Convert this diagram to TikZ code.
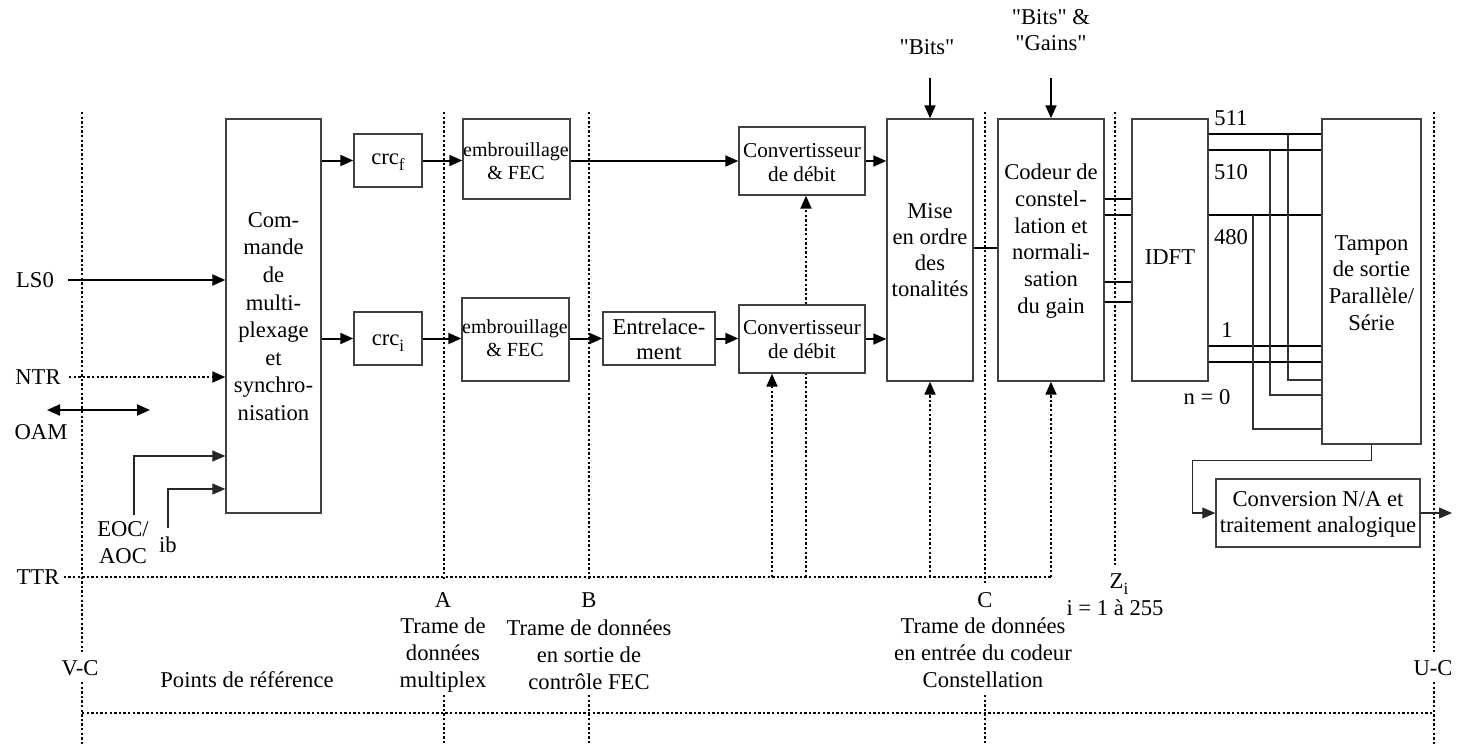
\documentclass[tikz,border=0pt]{standalone}
\usepackage{fontspec}
\setmainfont{Liberation Serif}[Ligatures=TeXOff]
\usetikzlibrary{arrows.meta,fit,calc}
% small lowered index letter (crc_f, crc_i, Z_i)
\newcommand\sbs[1]{\raisebox{-0.6ex}{\fontsize{8.5}{8.5}\selectfont #1}}
\begin{document}
\begin{tikzpicture}[x=0.5pt,y=-0.5pt,
  txt/.style={font=\fontsize{11.3}{13.4}\selectfont, align=center, inner sep=0pt},
  small/.style={txt, font=\fontsize{10}{11.5}\selectfont},
  mid/.style={txt, font=\fontsize{10.6}{12}\selectfont},
  box/.style={draw=black!75, line width=0.7pt, fill=white, inner sep=0pt},
  tip/.style={-{Triangle[length=6.5pt,width=5.5pt]}},
  arr/.style={line width=1pt, tip},
  tarr/.style={line width=0.55pt, draw=black!85, tip},
  dot/.style={line width=1pt, dash pattern=on 1.2pt off 1.1pt},
  wire/.style={line width=1pt},
  twire/.style={line width=0.55pt, draw=black!80},
]
\useasboundingbox (0,0) rectangle (1463,744);

% ---- reference planes (dotted verticals, broken where labelled) ----
\coordinate (vcT) at (82,112);   \coordinate (vcM) at (82,652);   \coordinate (vcN) at (82,682);   \coordinate (vcB) at (82,744);
\coordinate (aT)  at (444,112);  \coordinate (aM)  at (444,580);  \coordinate (aN)  at (444,695);  \coordinate (aB)  at (444,744);
\coordinate (bT)  at (589,112);  \coordinate (bM)  at (589,580);  \coordinate (bN)  at (589,695);  \coordinate (bB)  at (589,744);
\coordinate (cT)  at (985,112);  \coordinate (cM)  at (985,583);  \coordinate (cN)  at (985,695);  \coordinate (cB)  at (985,744);
\coordinate (ucT) at (1434,112); \coordinate (ucM) at (1434,652); \coordinate (ucN) at (1434,682); \coordinate (ucB) at (1434,744);
\coordinate (zT)  at (1115,112); \coordinate (zB)  at (1115,565);
\foreach \p in {vc,a,b,c,uc} {\draw[dot] (\p T) -- (\p M); \draw[dot] (\p N) -- (\p B);}
\draw[dot] (zT) -- (zB);
\coordinate (vcH) at (82,713);   \coordinate (ucH) at (1434,713);
\draw[dot] (vcH) -- (ucH);

% ---- blocks ----
\node[box, fit={(226,119) (321,513)}] (cmd) {};
\node[txt, font=\fontsize{11.3}{13.8}\selectfont] (cmdT) at (273.5,316.5)
  {Com-\\mande\\de\\multi-\\plexage\\et\\synchro-\\nisation};
\node[box, fit={(354,134) (422,187)}] (crcf) {};
\node[txt, anchor=base] (crcfT) at (388,164) {crc\sbs{f}};
\node[box, fit={(354,312) (422,365)}] (crci) {};
\node[txt, anchor=base] (crciT) at (388,345) {crc\sbs{i}};
\node[box, fit={(463,119) (570,199)}] (embA) {};
\node[small] (embAT) at (516,161.5) {embrouillage\\\& FEC};
\node[box, fit={(462,298) (569,381)}] (embB) {};
\node[small] (embBT) at (515,338.5) {embrouillage\\\& FEC};
\node[box, fit={(603,312) (715,365)}] (entr) {};
\node[txt, font=\fontsize{11.3}{12.5}\selectfont] (entrT) at (659,339.5) {Entrelace-\\ment};
\node[box, fit={(739,127) (865,195)}] (convA) {};
\node[mid] (convAT) at (802,163) {Convertisseur\\de débit};
\node[box, fit={(739,305) (865,373)}] (convB) {};
\node[mid] (convBT) at (802,340) {Convertisseur\\de débit};
\node[box, fit={(887,119) (973,381)}] (mise) {};
\node[txt, font=\fontsize{11.3}{13}\selectfont] (miseT) at (930,250.5) {Mise\\en ordre\\des\\tonalités};
\node[box, fit={(998,119) (1104,381)}] (codeur) {};
\node[txt] (codeurT) at (1051,241) {Codeur de\\constel-\\lation et\\normali-\\sation\\du gain};
\node[box, fit={(1132,119) (1208,381)}] (idft) {};
\node[txt] (idftT) at (1170,257) {IDFT};
\node[box, fit={(1322,119) (1421,444)}] (tamp) {};
\node[txt] (tampT) at (1371.5,283) {Tampon\\de sortie\\Parallèle/\\Série};
\node[box, fit={(1216,479) (1420,547)}] (conv) {};
\node[txt, font=\fontsize{11.3}{12.6}\selectfont] (convT) at (1318,514.5) {Conversion N/A et\\traitement analogique};

% ---- inputs on the left ----
\node[txt] (ls0) at (35,280) {LS0};
\node[txt] (ntr) at (38,377) {NTR};
\node[txt] (oam) at (41,432) {OAM};
\node[txt] (ttr) at (38,577) {TTR};
\node[txt] (eoc) at (123,543) {EOC/\\AOC};
\node[txt] (ib) at (168,545) {ib};
\draw[arr] ([xshift=7pt]ls0.east) -- (ls0 -| cmd.west);
\draw[dot, tip] ([xshift=4pt]ntr.east) -- (ntr -| cmd.west);
\coordinate (oamL) at (47,410); \coordinate (oamR) at (150,410);
\draw[line width=1pt, {Triangle[length=6.5pt,width=5.5pt]}-{Triangle[length=6.5pt,width=5.5pt]}] (oamL) -- (oamR);
\coordinate (eocS) at (134,515); \coordinate (ibS) at (168,528);
\draw[tarr] (eocS) |- (cmd.west |- 0,456);
\draw[tarr] (ibS) |- (cmd.west |- 0,489);

% ---- data path ----
\draw[arr] (cmd.east |- crcf.west) -- (crcf.west);
\draw[arr] (cmd.east |- crci.west) -- (crci.west);
\draw[arr] (crcf.east) -- (crcf.east -| embA.west);
\draw[arr] (crci.east) -- (crci.east -| embB.west);
\draw[arr] (embA.east |- convA.west) -- (convA.west);
\draw[arr] (embB.east |- entr.west) -- (entr.west);
\draw[arr] (entr.east) -- (entr.east -| convB.west);
\draw[arr] (convA.east) -- (convA.east -| mise.west);
\draw[arr] (convB.east) -- (convB.east -| mise.west);
\draw[wire] (mise.east |- 0,248) -- (codeur.west |- 0,248);
\foreach \yy in {199,215,282,302}
  \draw[wire] (codeur.east |- 0,\yy) -- (idft.west |- 0,\yy);
\foreach \yy in {134,150,215,346,362}
  \draw[wire] (idft.east |- 0,\yy) -- (tamp.west |- 0,\yy);

% serial taps into the output buffer
\coordinate (j1) at (1288,134); \coordinate (j2) at (1270,150); \coordinate (j3) at (1253,215);
\draw[twire] (j1) |- (tamp.west |- 0,380);
\draw[twire] (j2) |- (tamp.west |- 0,395);
\draw[twire] (j3) |- (tamp.west |- 0,429);

% output stage
\draw[tarr] (tamp.south) -- ++(0,16) -| ([xshift=-11.5pt]conv.west) -- (conv.west);
\coordinate (out) at (1452,513);
\draw[tarr] (conv.east) -- (out);

% ---- control inputs from the top ----
\node[txt] (bitsA) at (927,47) {"Bits"};
\node[txt] (bitsB) at (1051,30) {"Bits" \&\\"Gains"};
\coordinate (bA) at (mise.north |- 0,78);
\coordinate (bB) at (codeur.north |- 0,78);
\draw[arr] (bA) -- (mise.north);
\draw[arr] (bB) -- (codeur.north);

% ---- timing reference (TTR) ----
\coordinate (t1) at (772,577);
\coordinate (t2) at (806,577);
\coordinate (t4) at (codeur.south |- 0,577);
\draw[dot] ([xshift=2pt]ttr.east) -- (t4);
\draw[dot, tip] (t1) -- (t1 |- convB.south);
\draw[dot] (t2) -- (t2 |- convB.south);
\draw[dot, tip] (t2 |- convB.north) -- (t2 |- convA.south);
\draw[dot, tip] (mise.south |- t4) -- (mise.south);
\draw[dot, tip] (t4) -- (codeur.south);

% ---- tone indices ----
\node[txt] (n511) at (1231,118) {511};
\node[txt] (n510) at (1231,172) {510};
\node[txt] (n480) at (1231,237) {480};
\node[txt] (n1) at (1227,330) {1};
\node[txt] (n0) at (1207,397) {n = 0};

% ---- reference point labels ----
\node[txt] (lA) at (443,600) {A};
\node[txt, font=\fontsize{11.3}{13.6}\selectfont] (lAt) at (443,655) {Trame de\\données\\multiplex};
\node[txt] (lB) at (589,600) {B};
\node[txt, font=\fontsize{11.3}{13.6}\selectfont] (lBt) at (589,655) {Trame de données\\en sortie de\\contrôle FEC};
\node[txt] (lC) at (985,600) {C};
\node[txt, font=\fontsize{11.3}{13.6}\selectfont] (lCt) at (983,653) {Trame de données\\en entrée du codeur\\Constellation};
\node[txt, anchor=base] (lZ) at (1119,588) {Z\sbs{i}};
\node[txt] (lZt) at (1115,608) {i = 1 à 255};
\node[txt] (lVC) at (80,668) {V-C};
\node[txt] (lUC) at (1433,668) {U-C};
\node[txt] (lPts) at (247,680) {Points de référence};
\end{tikzpicture}
\end{document}
